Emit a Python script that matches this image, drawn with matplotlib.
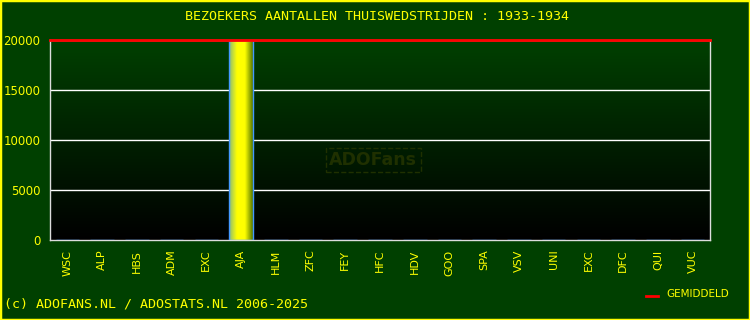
import numpy as np
import matplotlib
matplotlib.use("Agg")
from matplotlib import pyplot as plt
from matplotlib.colors import LinearSegmentedColormap
from matplotlib.patches import Rectangle

teams = ["WSC", "ALP", "HBS", "ADM", "EXC", "AJA", "HLM", "ZFC", "FEY", "HFC",
         "HDV", "GOO", "SPA", "VSV", "UNI", "EXC", "DFC", "QUI", "VUC"]
visitors = [0, 0, 0, 0, 0, 20000, 0, 0, 0, 0, 0, 0, 0, 0, 0, 0, 0, 0, 0]
average = 20000
yticks = [0, 5000, 10000, 15000, 20000]

BG = "#004000"
YELLOW = "#ffff00"


def draw_chart():
    fig = plt.figure(figsize=(7.5, 3.2), dpi=100, facecolor=BG)
    fig.patches.append(Rectangle((0, 0), 1, 1, transform=fig.transFigure,
                                 fill=False, edgecolor=YELLOW, linewidth=2.5))
    ax = fig.add_axes([50 / 750, 80 / 320, 660 / 750, 200 / 320])

    x = np.arange(len(teams))
    ax.set_xlim(-0.5, len(teams) - 0.5)
    ax.set_ylim(0, 20000)

    # background gradient of plot area
    bg_cmap = LinearSegmentedColormap.from_list("bg", ["#000000", "#004000"])
    grad = np.linspace(0, 1, 256).reshape(-1, 1)
    ax.imshow(grad, cmap=bg_cmap, aspect="auto", origin="lower",
              extent=(-0.5, len(teams) - 0.5, 0, 20000), zorder=0)

    for t in yticks[1:]:
        ax.axhline(t, color="white", linewidth=1, zorder=1)

    bars = ax.bar(x, visitors, width=0.68, color="none", edgecolor="#4499ff",
                  linewidth=1, zorder=3)
    bar_cmap = LinearSegmentedColormap.from_list(
        "bar", ["#88bb77", "#ffff00", "#ffff00", "#557700"])
    hgrad = np.linspace(0, 1, 256).reshape(1, -1)
    for b in bars:
        if b.get_height() > 0:
            ax.imshow(hgrad, cmap=bar_cmap, aspect="auto",
                      extent=(b.get_x(), b.get_x() + b.get_width(), 0, b.get_height()),
                      zorder=2)

    ax.axhline(average, color="red", linewidth=2, zorder=4, clip_on=False)

    ax.set_xticks(x)
    ax.set_xticklabels(teams, rotation=90, fontsize=8, color=YELLOW)
    ax.set_yticks(yticks)
    ax.set_yticklabels([str(t) for t in yticks], fontsize=8.5, color=YELLOW)
    ax.tick_params(length=0, pad=7)
    for s in ax.spines.values():
        s.set_color("#dddddd")
        s.set_linewidth(1)

    # watermark
    ax.text(0.49, 0.4, "ADOFans", transform=ax.transAxes, ha="center", va="center",
            fontsize=12.5, fontweight="bold", color="#1f3000", zorder=1.5,
            bbox=dict(boxstyle="square,pad=0.2", fc="none", ec="#1f3000", ls="--"))

    fig.text(377 / 750, 1 - 17 / 320, "BEZOEKERS AANTALLEN THUISWEDSTRIJDEN : 1933-1934",
             ha="center", va="center", color=YELLOW, fontsize=9.6,
             family="DejaVu Sans Mono")
    fig.text(4 / 750, 1 - 304 / 320, "(c) ADOFANS.NL / ADOSTATS.NL 2006-2025",
             ha="left", va="center", color=YELLOW, fontsize=9.6,
             family="DejaVu Sans Mono")
    fig.lines.append(plt.Line2D([646 / 750, 658 / 750], [1 - 296 / 320] * 2,
                                transform=fig.transFigure, color="red", linewidth=2))
    fig.text(666 / 750, 1 - 294 / 320, "GEMIDDELD", ha="left", va="center",
             color=YELLOW, fontsize=7.5)

    fig.savefig("out.png", dpi=100, facecolor=BG)


def main():
    draw_chart()


if __name__ == "__main__":
    main()
